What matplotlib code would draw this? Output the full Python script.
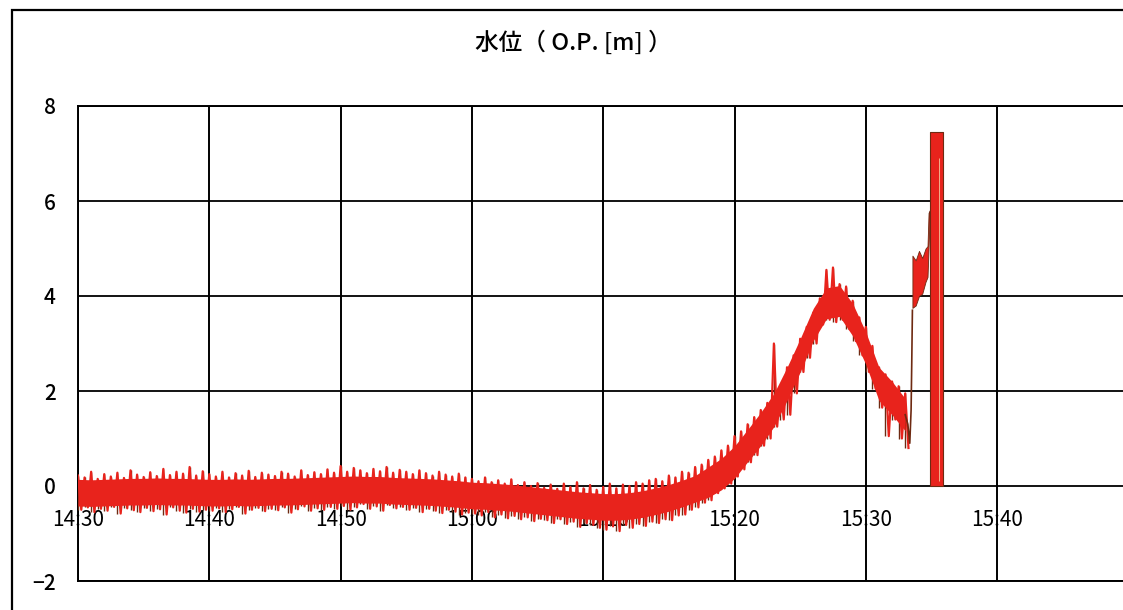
import numpy as np
import matplotlib
matplotlib.use("Agg")
import matplotlib.pyplot as plt
from matplotlib.patches import Rectangle
from matplotlib.transforms import blended_transform_factory

plt.rcParams['font.family'] = ['Noto Sans CJK JP', 'DejaVu Sans']

# ---------------- data (minutes after 14:30) ----------------
title = "水位（ O.P. [m] ）"
x_ticks = [0, 10, 20, 30, 40, 50, 60, 70]
x_tick_labels = ["14:30", "14:40", "14:50", "15:00", "15:10", "15:20", "15:30", "15:40"]
y_ticks = [-2, 0, 2, 4, 6, 8]
y_tick_labels = ["−2", "0", "2", "4", "6", "8"]

core_t = list(range(0, 64))
core_hi = [0.14, 0.13, 0.14, 0.15, 0.16, 0.16, 0.17, 0.16, 0.16, 0.15,
           0.14, 0.14, 0.15, 0.14, 0.15, 0.16, 0.16, 0.17, 0.18, 0.19,
           0.20, 0.21, 0.20, 0.20, 0.18, 0.17, 0.16, 0.15, 0.13, 0.11,
           0.08, 0.07, 0.05, 0.03, 0.00, -0.03, -0.06, -0.09, -0.12, -0.14,
           -0.16, -0.16, -0.14, -0.10, -0.04, 0.03, 0.12, 0.22, 0.40, 0.58,
           0.84, 1.19, 1.55, 1.95, 2.50, 3.10, 3.74, 4.17, 4.22, 3.84,
           3.24, 2.50, 2.20, 1.84]
core_lo = [-0.42, -0.43, -0.42, -0.41, -0.40, -0.40, -0.39, -0.40, -0.40, -0.41,
           -0.42, -0.42, -0.41, -0.42, -0.41, -0.40, -0.40, -0.39, -0.38, -0.37,
           -0.36, -0.35, -0.36, -0.36, -0.38, -0.39, -0.40, -0.41, -0.43, -0.45,
           -0.48, -0.49, -0.51, -0.53, -0.56, -0.59, -0.62, -0.65, -0.68, -0.70,
           -0.72, -0.72, -0.70, -0.66, -0.60, -0.53, -0.44, -0.34, -0.24, -0.08,
           0.16, 0.51, 0.85, 1.25, 1.80, 2.40, 3.06, 3.52, 3.57, 3.16,
           2.56, 1.80, 1.50, 1.16]

spike_t = [i * 0.5 for i in range(127)]
spike_hi = [0.22, 0.18, 0.30, 0.15, 0.25, 0.20, 0.28, 0.17, 0.33, 0.24,
            0.19, 0.29, 0.21, 0.36, 0.23, 0.30, 0.26, 0.40, 0.22, 0.31,
            0.25, 0.20, 0.30, 0.18, 0.27, 0.22, 0.32, 0.19, 0.28, 0.24,
            0.21, 0.30, 0.26, 0.20, 0.33, 0.23, 0.29, 0.25, 0.35, 0.28,
            0.42, 0.30, 0.38, 0.33, 0.27, 0.36, 0.31, 0.40, 0.28, 0.34,
            0.30, 0.25, 0.33, 0.27, 0.22, 0.30, 0.24, 0.20, 0.26, 0.18,
            0.15, 0.10, 0.18, 0.08, 0.12, 0.05, 0.14, 0.02, 0.08, 0.00,
            0.06, -0.04, 0.03, -0.06, 0.05, -0.02, 0.08, -0.05, 0.02, -0.08,
            -0.02, 0.05, -0.05, 0.03, 0.00, 0.08, 0.05, 0.12, 0.15, 0.10,
            0.22, 0.18, 0.30, 0.28, 0.40, 0.45, 0.55, 0.62, 0.75, 0.85,
            1.05, 1.15, 1.30, 1.45, 1.60, 1.75, 3.00, 2.10, 2.50, 2.75,
            3.10, 3.35, 3.65, 3.95, 4.55, 4.60, 4.25, 4.20, 3.90, 3.55,
            3.35, 2.95, 2.50, 2.35, 2.20, 2.10, 1.95]
spike_lo = [-0.50, -0.45, -0.55, -0.48, -0.52, -0.44, -0.58, -0.47, -0.51, -0.55,
            -0.46, -0.53, -0.49, -0.60, -0.45, -0.52, -0.56, -0.48, -0.54, -0.50,
            -0.52, -0.47, -0.55, -0.49, -0.44, -0.58, -0.50, -0.46, -0.53, -0.48,
            -0.51, -0.45, -0.56, -0.49, -0.43, -0.52, -0.47, -0.50, -0.44, -0.48,
            -0.42, -0.50, -0.45, -0.38, -0.48, -0.43, -0.52, -0.40, -0.47, -0.44,
            -0.50, -0.46, -0.55, -0.48, -0.52, -0.57, -0.50, -0.54, -0.60, -0.56,
            -0.58, -0.62, -0.55, -0.66, -0.60, -0.68, -0.63, -0.70, -0.66, -0.74,
            -0.69, -0.72, -0.78, -0.70, -0.80, -0.75, -0.86, -0.78, -0.82, -0.88,
            -0.92, -0.85, -0.95, -0.82, -0.88, -0.80, -0.84, -0.75, -0.78, -0.70,
            -0.72, -0.62, -0.60, -0.50, -0.45, -0.35, -0.30, -0.15, -0.05, 0.05,
            0.20, 0.35, 0.50, 0.65, 0.85, 1.00, 1.25, 1.40, 1.50, 1.95,
            2.40, 2.70, 3.00, 3.40, 3.50, 3.45, 3.50, 3.30, 3.05, 2.75,
            2.40, 2.05, 1.65, 1.05, 1.40, 1.00, 0.80]

# surge just before the gauge failed
surge_t = [63.0, 63.2, 63.35, 63.45, 63.5, 63.55]
surge_v = [1.50, 1.30, 0.90, 1.60, 2.60, 3.70]
block_t = [63.55, 63.8, 64.05, 64.3, 64.55, 64.7, 64.78, 64.85]
block_lo = [3.75, 3.80, 4.00, 4.05, 4.30, 4.40, 5.00, 5.60]
block_hi = [4.85, 4.75, 4.95, 4.80, 5.00, 5.05, 5.75, 5.80]
bar_t = [64.9, 65.85]
bar_lo = [0.0, 0.0]
bar_hi = [7.45, 7.45]

# ---------------- figure ----------------
W, H = 1123, 610
fig = plt.figure(figsize=(W / 100, H / 100), dpi=100)
fig.patch.set_facecolor('white')

# outer chart frame
fig.patches.append(Rectangle((12 / W, -0.05), 1.2, 1 - 10 / H + 0.05,
                             transform=fig.transFigure, fill=False,
                             edgecolor='black', linewidth=1.6))

px_per_min = 13.13
ax = fig.add_axes([78 / W, 29 / H, 80 * px_per_min / W, 475 / H])
ax.set_xlim(0, 80)
ax.set_ylim(-2, 8)

for s in ['top', 'left', 'bottom']:
    ax.spines[s].set_linewidth(1.4)
    ax.spines[s].set_color('black')
ax.spines['right'].set_visible(False)

for xv in x_ticks:
    ax.axvline(xv, color='black', lw=1.4, zorder=4)
for yv in y_ticks:
    ax.axhline(yv, color='black', lw=1.3, zorder=4)

ax.set_xticks([])
ax.set_yticks(y_ticks)
ax.set_yticklabels(y_tick_labels, fontsize=15, fontweight='medium')
ax.tick_params(axis='y', length=0, pad=16)

red = '#e8231c'
dark = '#6e2a12'

# dark spike edges, then a red saw-tooth trace through the same readings, then the dense core
ax.vlines(spike_t, spike_lo, spike_hi, color=dark, lw=1.0, zorder=5)
zz_t, zz_v = [], []
for t, h, l in zip(spike_t, spike_hi, spike_lo):
    zz_t += [t, t + 0.25]
    zz_v += [h, l]
ax.plot(zz_t, zz_v, color=red, lw=1.6, zorder=6)
ax.fill_between(core_t, core_lo, core_hi, color=red, lw=0, zorder=6)
ax.plot(surge_t, surge_v, color=dark, lw=1.2, zorder=6)
ax.fill_between(block_t, block_lo, block_hi, color=red, lw=0.6,
                edgecolor=dark, zorder=6)
ax.fill_between(bar_t, bar_lo, bar_hi, color=red, lw=0.8,
                edgecolor=dark, zorder=6)
ax.vlines([65.55], [0.1], [6.9], color='#f2b08a', lw=0.7, zorder=7)

tr = blended_transform_factory(ax.transData, ax.transData)
for xv, lab in zip(x_ticks, x_tick_labels):
    ax.text(xv, -0.72, lab, transform=tr, ha='center', va='center',
            fontsize=15, zorder=3, clip_on=False)

fig.text(573 / W, 1 - 43 / H, title, ha='center', va='center',
         fontsize=17, fontweight='medium')

fig.savefig('out.png', dpi=100)
